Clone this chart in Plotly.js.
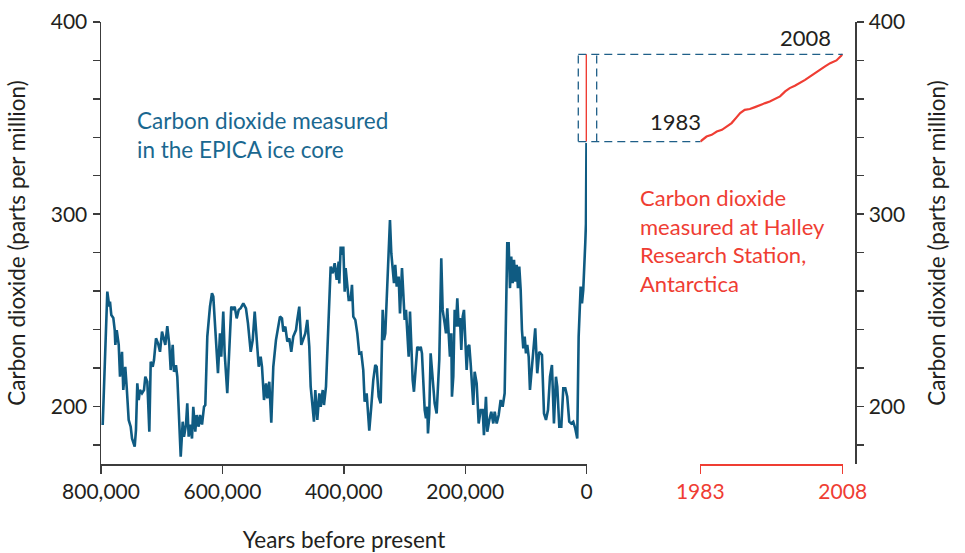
<!DOCTYPE html>
<html>
<head>
<meta charset="utf-8">
<script src="https://cdn.plot.ly/plotly-3.0.1.min.js"></script>
<style>
  html, body { margin: 0; padding: 0; background: #ffffff; }
  #chart { width: 965px; height: 553px; }
</style>
</head>
<body>
<div id="chart"></div>
<script>
// EPICA ice core: thousands of years before present
const epicaKyrBP = [
  797.2, 789.6, 786.3, 785.2, 783.0, 779.7, 777.4, 776.4, 774.1, 770.8,
  768.7, 765.4, 763.3, 760.0, 757.7, 754.4, 751.1, 748.9, 744.5, 742.4,
  740.2, 737.9, 735.8, 732.5, 729.2, 727.0, 723.7, 720.4, 718.1, 714.8,
  712.7, 709.4, 706.1, 702.8, 699.5, 696.2, 694.1, 690.8, 687.5, 685.2,
  681.9, 679.8, 676.5, 674.3, 669.9, 668.7, 665.4, 663.3, 660.0, 657.9,
  655.6, 653.4, 650.1, 648.0, 644.7, 642.4, 639.1, 636.9, 633.6, 630.3,
  628.2, 624.9, 620.5, 617.2, 615.0, 611.7, 607.3, 604.0, 601.9, 598.6,
  596.3, 592.0, 588.7, 585.4, 582.1, 579.8, 576.5, 573.2, 569.9, 565.6,
  561.2, 557.9, 553.4, 550.1, 546.8, 543.5, 540.2, 537.0, 534.8, 531.5,
  528.2, 526.1, 522.8, 519.5, 516.2, 511.8, 508.5, 505.2, 501.9, 499.7,
  496.4, 493.1, 489.8, 486.6, 483.3, 478.8, 476.7, 473.4, 470.1, 466.8,
  463.5, 460.2, 456.9, 454.6, 452.5, 449.2, 447.0, 443.7, 440.4, 438.1,
  434.8, 432.7, 429.4, 427.3, 424.0, 421.7, 418.4, 415.1, 411.8, 408.5,
  407.5, 405.2, 403.0, 400.9, 398.6, 397.0, 392.0, 388.7, 386.6, 384.4,
  381.1, 377.8, 374.6, 371.3, 368.0, 365.7, 362.4, 358.1, 354.8, 351.5,
  348.2, 345.9, 342.6, 339.3, 336.0, 333.9, 331.7, 329.4, 326.1, 324.0,
  321.8, 319.5, 317.4, 315.3, 312.9, 309.7, 307.5, 304.2, 302.1, 299.8,
  297.6, 295.5, 293.2, 291.0, 288.9, 286.6, 284.5, 281.2, 279.0, 275.7,
  273.4, 271.3, 269.1, 266.8, 264.7, 262.5, 261.4, 259.3, 257.0, 253.7,
  250.4, 247.1, 244.9, 242.8, 239.5, 237.2, 233.9, 231.7, 229.6, 227.3,
  225.2, 223.0, 221.9, 219.7, 217.4, 215.3, 213.1, 210.8, 208.7, 206.5,
  204.2, 202.1, 200.0, 197.7, 195.5, 193.4, 191.1, 188.9, 186.8, 184.5,
  181.2, 177.9, 174.6, 171.3, 169.2, 165.9, 163.7, 160.4, 157.1, 153.8,
  151.5, 148.2, 144.9, 141.7, 138.4, 135.1, 132.9, 130.8, 128.5, 126.3,
  124.2, 121.9, 119.7, 117.6, 115.3, 113.2, 111.0, 108.7, 106.6, 104.4,
  102.1, 100.0, 97.8, 95.5, 93.4, 91.2, 88.0, 84.7, 81.4, 78.1,
  73.6, 70.3, 67.0, 63.7, 60.4, 57.2, 53.9, 50.6, 48.4, 45.1,
  41.8, 38.5, 35.2, 32.0, 28.7, 25.4, 22.1, 18.8, 15.5, 13.2,
  9.9, 7.7, 5.6, 3.3, 2.3, 1.2, 0.3
];
// EPICA carbon dioxide, parts per million
const epicaCO2 = [
  190.3, 259.7, 251.9, 254.5, 247.5, 246.0, 239.7, 232.0, 239.7, 232.0,
  215.4, 228.4, 208.5, 220.6, 210.2, 192.9, 189.4, 183.3, 179.0, 187.7,
  212.0, 203.3, 208.5, 206.8, 208.5, 215.4, 212.8, 186.8, 223.2, 220.6,
  224.1, 235.4, 232.8, 228.4, 238.9, 234.5, 232.0, 241.8, 232.0, 218.9,
  232.0, 218.0, 221.5, 215.4, 187.7, 173.8, 192.0, 184.2, 190.5, 201.6,
  184.2, 190.5, 183.3, 199.8, 186.8, 195.5, 189.4, 195.5, 190.5, 199.8,
  200.7, 236.3, 251.9, 258.9, 257.1, 239.7, 217.2, 238.0, 225.8, 249.3,
  227.6, 206.8, 229.3, 251.9, 250.2, 251.9, 245.8, 250.2, 251.1, 253.6,
  251.0, 243.2, 228.4, 234.5, 249.3, 236.3, 220.6, 225.8, 220.6, 203.3,
  212.0, 204.1, 212.8, 191.5, 220.6, 234.5, 241.5, 246.7, 245.8, 238.9,
  241.5, 233.7, 235.4, 228.4, 236.3, 239.7, 245.0, 251.9, 232.0, 234.5,
  238.0, 245.0, 231.0, 210.2, 204.1, 192.0, 208.5, 192.9, 206.8, 199.8,
  208.5, 200.7, 210.2, 227.6, 253.6, 272.7, 269.2, 274.5, 265.8, 275.3,
  264.0, 283.1, 278.8, 283.1, 259.7, 271.9, 255.4, 255.4, 263.2, 246.7,
  245.0, 238.0, 227.6, 228.0, 218.9, 202.4, 206.8, 187.3, 199.8, 213.7,
  221.5, 220.6, 205.0, 201.6, 250.2, 234.5, 238.0, 253.6, 283.1, 297.0,
  279.7, 271.0, 264.1, 273.6, 262.3, 267.5, 248.4, 271.9, 255.4, 245.0,
  250.2, 236.3, 225.8, 249.3, 232.8, 213.7, 207.6, 220.6, 231.0, 229.3,
  231.0, 227.6, 213.7, 198.1, 193.8, 199.8, 185.9, 196.3, 227.6, 212.0,
  201.6, 196.3, 213.7, 224.1, 277.1, 250.2, 243.2, 238.0, 251.0, 234.5,
  225.8, 238.0, 205.0, 215.4, 250.2, 241.5, 256.2, 241.5, 246.0, 229.3,
  246.7, 250.2, 234.5, 218.9, 231.0, 232.0, 222.4, 206.8, 200.7, 218.0,
  212.0, 191.1, 198.1, 198.1, 185.0, 205.0, 186.8, 192.9, 197.2, 191.1,
  197.2, 191.1, 195.5, 203.3, 199.8, 206.8, 262.3, 284.9, 284.9, 261.5,
  277.9, 264.1, 276.2, 264.9, 273.6, 261.5, 272.7, 260.6, 239.7, 230.2,
  236.3, 227.6, 232.0, 225.8, 208.5, 217.2, 231.0, 240.6, 217.2, 228.4,
  226.7, 196.3, 192.9, 198.1, 215.4, 221.5, 191.1, 215.4, 210.2, 189.4,
  189.4, 209.4, 209.4, 205.0, 192.0, 191.1, 192.0, 188.5, 183.3, 236.3,
  262.3, 253.6, 260.6, 274.5, 285.0, 295.0, 337.0
];
// Halley Research Station
const halleyYears = [
  1983.0, 1984.1, 1985.0, 1985.9, 1986.8, 1987.6, 1988.5, 1989.4, 1990.0, 1990.8,
  1991.7, 1992.6, 1993.5, 1994.4, 1995.2, 1996.1, 1997.0, 1997.9, 1998.7, 1999.6,
  2000.5, 2001.4, 2002.3, 2003.1, 2004.0, 2004.9, 2005.8, 2006.9, 2008.0
];
const halleyCO2 = [
  337.8, 340.4, 341.3, 343.0, 343.9, 345.6, 347.4, 350.5, 352.6, 354.3,
  354.7, 355.7, 356.9, 357.8, 358.6, 359.9, 361.3, 363.9, 365.6, 366.8,
  368.2, 369.9, 371.7, 373.4, 375.2, 376.9, 378.6, 380.0, 383.2
];
const leftTickVals = [800000, 600000, 400000, 200000, 0];
const rightTickVals = [1983, 2008];
const epicaLabelLines = ['Carbon dioxide measured', 'in the EPICA ice core'];
const halleyLabelLines = ['Carbon dioxide', 'measured at Halley', 'Research Station,', 'Antarctica'];

const BLUE = '#0f5b82';
const BLUE_TEXT = '#1a6890';
const RED = '#ef3d33';
const INK = '#231f20';
const AXIS = '#3c3c3c';
const FONT = 'Lato, "Open Sans", sans-serif';

const presentYear = halleyYears[halleyYears.length - 1];

const traces = [
  {
    x: epicaKyrBP.map(k => k * 1000), y: epicaCO2,
    xaxis: 'x', yaxis: 'y', type: 'scatter', mode: 'lines',
    line: { color: BLUE, width: 2.6 }, hoverinfo: 'skip'
  },
  {
    x: halleyYears.map(yr => presentYear - yr), y: halleyCO2,
    xaxis: 'x', yaxis: 'y', type: 'scatter', mode: 'lines',
    line: { color: RED, width: 2 }, hoverinfo: 'skip'
  },
  {
    x: halleyYears, y: halleyCO2,
    xaxis: 'x2', yaxis: 'y2', type: 'scatter', mode: 'lines',
    line: { color: RED, width: 2.2 }, hoverinfo: 'skip'
  }
];

const yMin = Math.min(...halleyCO2), yMax = Math.max(...halleyCO2);
const dash = { color: '#1f5f88', width: 1.3, dash: '8px,5px' };
const boxL = 0.6330, boxL2 = 0.6574, x2Start = 0.7948, x2End = 0.9837;

const yAxisCommon = {
  range: [170, 400], showgrid: false, zeroline: false,
  showline: true, linecolor: AXIS, linewidth: 1.5,
  ticks: 'outside', ticklen: 7, tickwidth: 1.5, tickcolor: AXIS,
  tick0: 0, dtick: 100, ticklabelstandoff: 1,
  minor: { dtick: 20, tick0: 0, ticks: 'outside', ticklen: 7, tickwidth: 1.5, tickcolor: AXIS, showgrid: false },
  tickfont: { family: FONT, size: 21, color: INK },
  title: { text: 'Carbon dioxide (parts per million)', font: { family: FONT, size: 22.5, color: INK }, standoff: 19 }
};

const annotations = [
  { xref: 'paper', yref: 'paper', x: 0.045, y: 0.745, xanchor: 'left', yanchor: 'middle', align: 'left',
    showarrow: false, text: epicaLabelLines.join('<br>'),
    font: { family: FONT, size: 22.5, color: BLUE_TEXT } },
  { xref: 'paper', yref: 'paper', x: 0.7122, y: 0.505, xanchor: 'left', yanchor: 'middle', align: 'left',
    showarrow: false, text: halleyLabelLines.join('<br>'),
    font: { family: FONT, size: 22, color: RED } },
  { xref: 'paper', yref: 'paper', x: 0.7985, y: 0.7738, xanchor: 'right', yanchor: 'middle',
    showarrow: false, text: String(halleyYears[0] | 0), font: { family: FONT, size: 22, color: INK } },
  { xref: 'paper', yref: 'paper', x: 0.935, y: 0.966, xanchor: 'center', yanchor: 'middle',
    showarrow: false, text: String(presentYear | 0), font: { family: FONT, size: 22, color: INK } }
];

const layout = {
  width: 965, height: 553,
  margin: { l: 101, r: 110, t: 22, b: 89, pad: 0 },
  paper_bgcolor: '#ffffff', plot_bgcolor: '#ffffff',
  showlegend: false,
  font: { family: FONT, size: 20, color: INK },
  xaxis: {
    domain: [0, 0.6446], range: [800000, -600], anchor: 'y',
    showgrid: false, zeroline: false, showline: true, linecolor: AXIS, linewidth: 1.5,
    ticks: 'outside', ticklen: 8, tickwidth: 1.5, tickcolor: AXIS,
    tickmode: 'array', tickvals: leftTickVals, tickformat: ',d',
    tickfont: { family: FONT, size: 21, color: INK },
    title: { text: 'Years before present', font: { family: FONT, size: 22.5, color: INK }, standoff: 36 }
  },
  xaxis2: {
    domain: [x2Start, x2End], range: [1983, 2008], anchor: 'y',
    showgrid: false, zeroline: false, showline: true, linecolor: RED, linewidth: 1.5,
    ticks: 'outside', ticklen: 8, tickwidth: 1.5, tickcolor: RED,
    tickmode: 'array', tickvals: rightTickVals, tickformat: 'd',
    tickfont: { family: FONT, size: 21, color: RED }
  },
  yaxis: Object.assign({}, yAxisCommon, { anchor: 'x', side: 'left' }),
  yaxis2: Object.assign({}, yAxisCommon, {
    overlaying: 'y', anchor: 'free', position: 1, side: 'right',
    title: Object.assign({}, yAxisCommon.title, { standoff: 25 })
  }),
  shapes: [
    { type: 'line', xref: 'paper', yref: 'y', x0: boxL, x1: boxL, y0: yMin, y1: yMax, line: dash },
    { type: 'line', xref: 'paper', yref: 'y', x0: boxL2, x1: boxL2, y0: yMin, y1: yMax, line: dash },
    { type: 'line', xref: 'paper', yref: 'y', x0: boxL, x1: x2End, y0: yMax, y1: yMax, line: dash },
    { type: 'line', xref: 'paper', yref: 'y', x0: boxL, x1: x2Start, y0: yMin, y1: yMin, line: dash }
  ],
  annotations: annotations
};

Plotly.newPlot('chart', traces, layout, { displayModeBar: false, staticPlot: true });
</script>
</body>
</html>
